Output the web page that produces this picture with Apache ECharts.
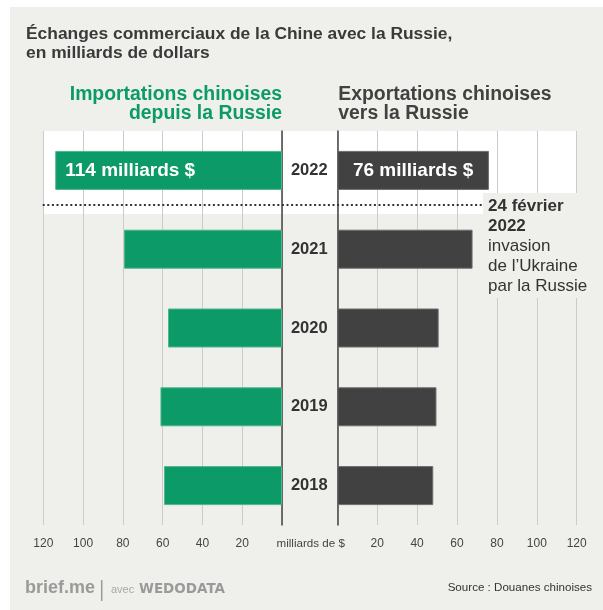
<!DOCTYPE html>
<html>
<head>
<meta charset="utf-8">
<script src="https://cdn.jsdelivr.net/npm/echarts@6/dist/echarts.min.js"></script>
<style>
html,body{margin:0;padding:0;background:#fff;}
#chart{width:603px;height:610px;}
</style>
</head>
<body>
<div id="chart"></div>
<script>
// ---- data ----
const years = ['2022', '2021', '2020', '2019', '2018'];
const imports = [114, 79.4, 57.3, 61.1, 59.3];   // importations chinoises depuis la Russie
const exports = [76, 67.8, 50.8, 49.7, 48.1];    // exportations chinoises vers la Russie
const tickValues = [0, 20, 40, 60, 80, 100, 120];
const axisUnit = 'milliards de $';
const titleLines = ['Échanges commerciaux de la Chine avec la Russie,', 'en milliards de dollars'];
const leftHeader = ['Importations chinoises', 'depuis la Russie'];
const rightHeader = ['Exportations chinoises', 'vers la Russie'];
const noteBold = ['24 février', '2022'];
const noteText = ['invasion', 'de l’Ukraine', 'par la Russie'];
const source = 'Source : Douanes chinoises';

// ---- style ----
const FONT = '"Liberation Sans", Arial, Helvetica, sans-serif';
const BG = '#efefeb';
const GREEN = '#0b9a68';
const DARK = '#414141';
const GRIDC = '#cbcbc7';

const chart = echarts.init(document.getElementById('chart'), null, {renderer: 'canvas'});

function fmtTick(v) { return v === 0 ? '' : String(v); }
function barData(arr, color, labelPos, dist) {
  return arr.map((v, i) => i === 0 ? {
    value: v,
    label: {
      show: true, position: labelPos, distance: dist,
      formatter: p => p.value + ' milliards $',
      color: '#fff', fontFamily: FONT, fontWeight: 'bold', fontSize: 19
    }
  } : v);
}

function txt(text, x, y, size, weight, color, align, family) {
  return {
    type: 'text', z: 100,
    style: {
      text: text, x: x, y: y,
      font: (weight || 'normal') + ' ' + size + 'px ' + (family || FONT),
      fill: color, textAlign: align || 'left', textVerticalAlign: 'middle'
    }
  };
}

const gridTop = 131, gridBottom = 85;
const graphics = [
  // white margins outside the gray panel
  {type: 'rect', z: -5, shape: {x: 0, y: 0, width: 603, height: 7}, style: {fill: '#fff'}},
  {type: 'rect', z: -5, shape: {x: 0, y: 0, width: 10, height: 610}, style: {fill: '#fff'}},
  // highlight 2022 row
  {type: 'rect', z: -5, shape: {x: 43.3, y: 131, width: 533.7, height: 83}, style: {fill: '#fff'}},
  // dotted separator
  {type: 'line', z: 50, shape: {x1: 42.7, y1: 205, x2: 482, y2: 205},
   style: {stroke: '#333', lineWidth: 2, lineDash: [2, 2.6]}},
  // note background
  {type: 'rect', z: 60, shape: {x: 483, y: 193, width: 110, height: 105}, style: {fill: BG}},
  txt(titleLines[0], 26, 33.8, 17.4, 'bold', '#3a3a3a'),
  txt(titleLines[1], 26, 53.5, 17.4, 'bold', '#3a3a3a'),
  txt(leftHeader[0], 282, 94.7, 19.4, 'bold', GREEN, 'right'),
  txt(leftHeader[1], 282, 113.3, 19.4, 'bold', GREEN, 'right'),
  txt(rightHeader[0], 338.3, 94.7, 19.4, 'bold', DARK),
  txt(rightHeader[1], 338.3, 113.3, 19.4, 'bold', DARK),
  txt(noteBold[0], 488, 206.4, 17, 'bold', '#333'),
  txt(noteBold[1], 488, 226.4, 17, 'bold', '#333'),
  txt(noteText[0], 488, 246.4, 17, 'normal', '#333'),
  txt(noteText[1], 488, 266.4, 17, 'normal', '#333'),
  txt(noteText[2], 488, 286.4, 17, 'normal', '#333'),
  txt(axisUnit, 310.7, 544, 11.6, 'normal', '#444', 'center'),
  txt('brief.me', 25, 587.7, 18, 'bold', '#9a9a9a'),
  {type: 'line', z: 50, shape: {x1: 101.7, y1: 580, x2: 101.7, y2: 601}, style: {stroke: '#9a9a9a', lineWidth: 1.5}},
  txt('avec', 111, 589.6, 11, 'normal', '#a8a8a8'),
  txt('WEDODATA', 139, 589, 13.5, 'bold', '#9a9a9a', 'left', '"DejaVu Sans", sans-serif'),
  txt(source, 592, 588, 11.6, 'normal', '#333', 'right')
];

const option = {
  backgroundColor: BG,
  animation: false,
  grid: [
    {left: 43.3, right: 321, top: gridTop, bottom: gridBottom},
    {left: 337.3, right: 26.3, top: gridTop, bottom: gridBottom}
  ],
  xAxis: [
    {gridIndex: 0, type: 'value', min: 0, max: 120, interval: 20, inverse: true,
     axisLine: {show: false}, axisTick: {show: false},
     splitLine: {show: true, lineStyle: {color: GRIDC, width: 1}},
     axisLabel: {formatter: fmtTick, fontFamily: FONT, fontSize: 12, color: '#444', margin: 13}},
    {gridIndex: 1, type: 'value', min: 0, max: 120, interval: 20,
     axisLine: {show: false}, axisTick: {show: false},
     splitLine: {show: true, lineStyle: {color: GRIDC, width: 1}},
     axisLabel: {formatter: fmtTick, fontFamily: FONT, fontSize: 12, color: '#444', margin: 13}}
  ],
  yAxis: [
    {gridIndex: 0, type: 'category', data: years, inverse: true, position: 'right',
     axisLine: {show: true, onZero: false, lineStyle: {color: '#444', width: 1.5}},
     axisTick: {show: false}, axisLabel: {show: false}},
    {gridIndex: 1, type: 'category', data: years, inverse: true, position: 'left',
     axisLine: {show: true, onZero: false, lineStyle: {color: '#444', width: 1.5}},
     axisTick: {show: false},
     axisLabel: {show: true, fontFamily: FONT, fontWeight: 'bold', fontSize: 16.5, color: '#333',
                 margin: 28, align: 'center', padding: [5, 0, 0, 0]}}
  ],
  series: [
    {type: 'bar', xAxisIndex: 0, yAxisIndex: 0, barWidth: 39, silent: true,
     itemStyle: {color: GREEN, borderColor: '#52b48c', borderWidth: 1},
     data: barData(imports, GREEN, 'insideLeft', 10)},
    {type: 'bar', xAxisIndex: 1, yAxisIndex: 1, barWidth: 39, silent: true,
     itemStyle: {color: DARK, borderColor: '#6c6c6c', borderWidth: 1},
     data: barData(exports, DARK, 'inside', 0)}
  ],
  graphic: {elements: graphics}
};
chart.setOption(option);
</script>
</body>
</html>
